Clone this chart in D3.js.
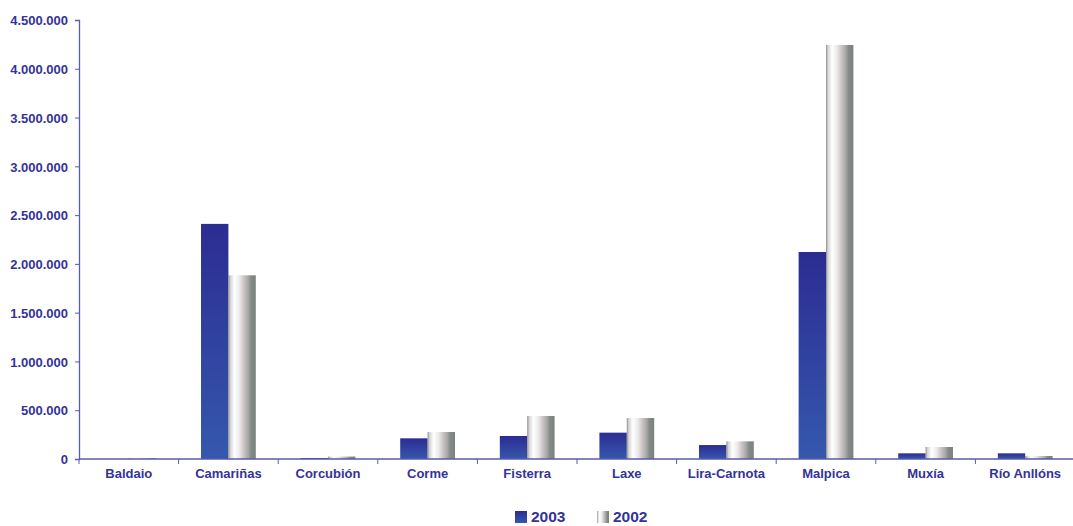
<!DOCTYPE html>
<html>
<head>
<meta charset="utf-8">
<script src="https://cdn.jsdelivr.net/npm/d3@7"></script>
<style>
  html, body { margin: 0; padding: 0; background: #ffffff; }
  svg { display: block; }
  text { font-family: "Liberation Sans", Arial, sans-serif; font-weight: bold; fill: #333399; }
</style>
</head>
<body>
<svg id="chart" width="1073" height="526"></svg>
<script>
const categories = ["Baldaio", "Camariñas", "Corcubión", "Corme", "Fisterra", "Laxe", "Lira-Carnota", "Malpica", "Muxía", "Río Anllóns"];
const values2003 = [0, 2410000, 10000, 212000, 236000, 270000, 143000, 2122000, 58000, 58000];
const values2002 = [8000, 1883000, 25000, 277000, 441000, 420000, 181000, 4244000, 123000, 31000];
const seriesNames = ["2003", "2002"];
const yTicks = [0, 500000, 1000000, 1500000, 2000000, 2500000, 3000000, 3500000, 4000000, 4500000];

const svg = d3.select("#chart");
const margin = { left: 79, right: -2, top: 20, bottom: 67 };
const W = 1073, H = 526;
const x0 = margin.left, x1 = W - margin.right;
const yTop = margin.top, yBot = H - margin.bottom;

const defs = svg.append("defs");
const gBlue = defs.append("linearGradient").attr("id", "gBlue").attr("x1", 0).attr("y1", 0).attr("x2", 0).attr("y2", 1);
gBlue.append("stop").attr("offset", "0%").attr("stop-color", "#2c2c92");
gBlue.append("stop").attr("offset", "100%").attr("stop-color", "#3558ad");
const gGray = defs.append("linearGradient").attr("id", "gGray").attr("x1", 0).attr("y1", 0).attr("x2", 1).attr("y2", 0);
[["0%", "#8c8c8c"], ["7%", "#d4d4d4"], ["22%", "#ffffff"], ["40%", "#ebebeb"], ["55%", "#cfc6c7"], ["72%", "#a8a8a6"], ["82%", "#858c87"], ["100%", "#7a827d"]]
  .forEach(([o, c]) => gGray.append("stop").attr("offset", o).attr("stop-color", c));

const x = d3.scaleBand().domain(categories).range([x0, x1]).paddingInner(0).paddingOuter(0);
const inner = d3.scaleBand().domain(seriesNames).range([x.bandwidth() * 0.225, x.bandwidth() * 0.775]);
const y = d3.scaleLinear().domain([0, 4500000]).range([yBot, yTop]);

const fmt = v => d3.format(",")(v).replace(/,/g, ".");

// bars
const data = categories.map((c, i) => ({ cat: c, vals: [values2003[i], values2002[i]] }));
const groups = svg.append("g").selectAll("g").data(data).join("g")
  .attr("transform", d => `translate(${x(d.cat)},0)`);
groups.selectAll("rect").data(d => d.vals.map((v, j) => ({ v, s: seriesNames[j] }))).join("rect")
  .attr("x", d => inner(d.s))
  .attr("width", inner.bandwidth())
  .attr("y", d => y(d.v))
  .attr("height", d => Math.max(0, yBot - y(d.v)))
  .attr("fill", d => d.s === "2003" ? "url(#gBlue)" : "url(#gGray)");

// y axis
const yAxis = d3.axisLeft(y).tickValues(yTicks).tickFormat(fmt).tickSize(4).tickPadding(7);
const gy = svg.append("g").attr("transform", `translate(${x0},0)`).call(yAxis);
gy.select(".domain").attr("stroke", "#5a5ab0").attr("stroke-width", 1.3);
gy.selectAll(".tick line").attr("stroke", "#5a5ab0");
gy.selectAll(".tick text").style("font-size", "13px").attr("fill", "#333399").attr("dy", "0.36em");

// x axis
const gx = svg.append("g").attr("transform", `translate(0,${yBot})`);
gx.append("line").attr("x1", x0).attr("x2", x1).attr("y1", 0).attr("y2", 0)
  .attr("stroke", "#5a5ab0").attr("stroke-width", 1.3);
gx.selectAll("line.tk").data(categories).join("line").attr("class", "tk")
  .attr("x1", d => x(d)).attr("x2", d => x(d)).attr("y1", 0).attr("y2", 5)
  .attr("stroke", "#5a5ab0");
gx.selectAll("text.lbl").data(categories).join("text").attr("class", "lbl")
  .attr("x", d => x(d) + x.bandwidth() / 2).attr("y", 19)
  .attr("text-anchor", "middle").style("font-size", "13px").text(d => d);

// legend
const legend = svg.append("g");
const legendItems = [{ name: seriesNames[0], fill: "url(#gBlue)", x: 515 }, { name: seriesNames[1], fill: "url(#gGray)", x: 597 }];
legendItems.forEach(it => {
  legend.append("rect").attr("x", it.x).attr("y", 511).attr("width", 12).attr("height", 12).attr("fill", it.fill);
  legend.append("text").attr("x", it.x + 16).attr("y", 522).style("font-size", "15.5px").text(it.name);
});
</script>
</body>
</html>
